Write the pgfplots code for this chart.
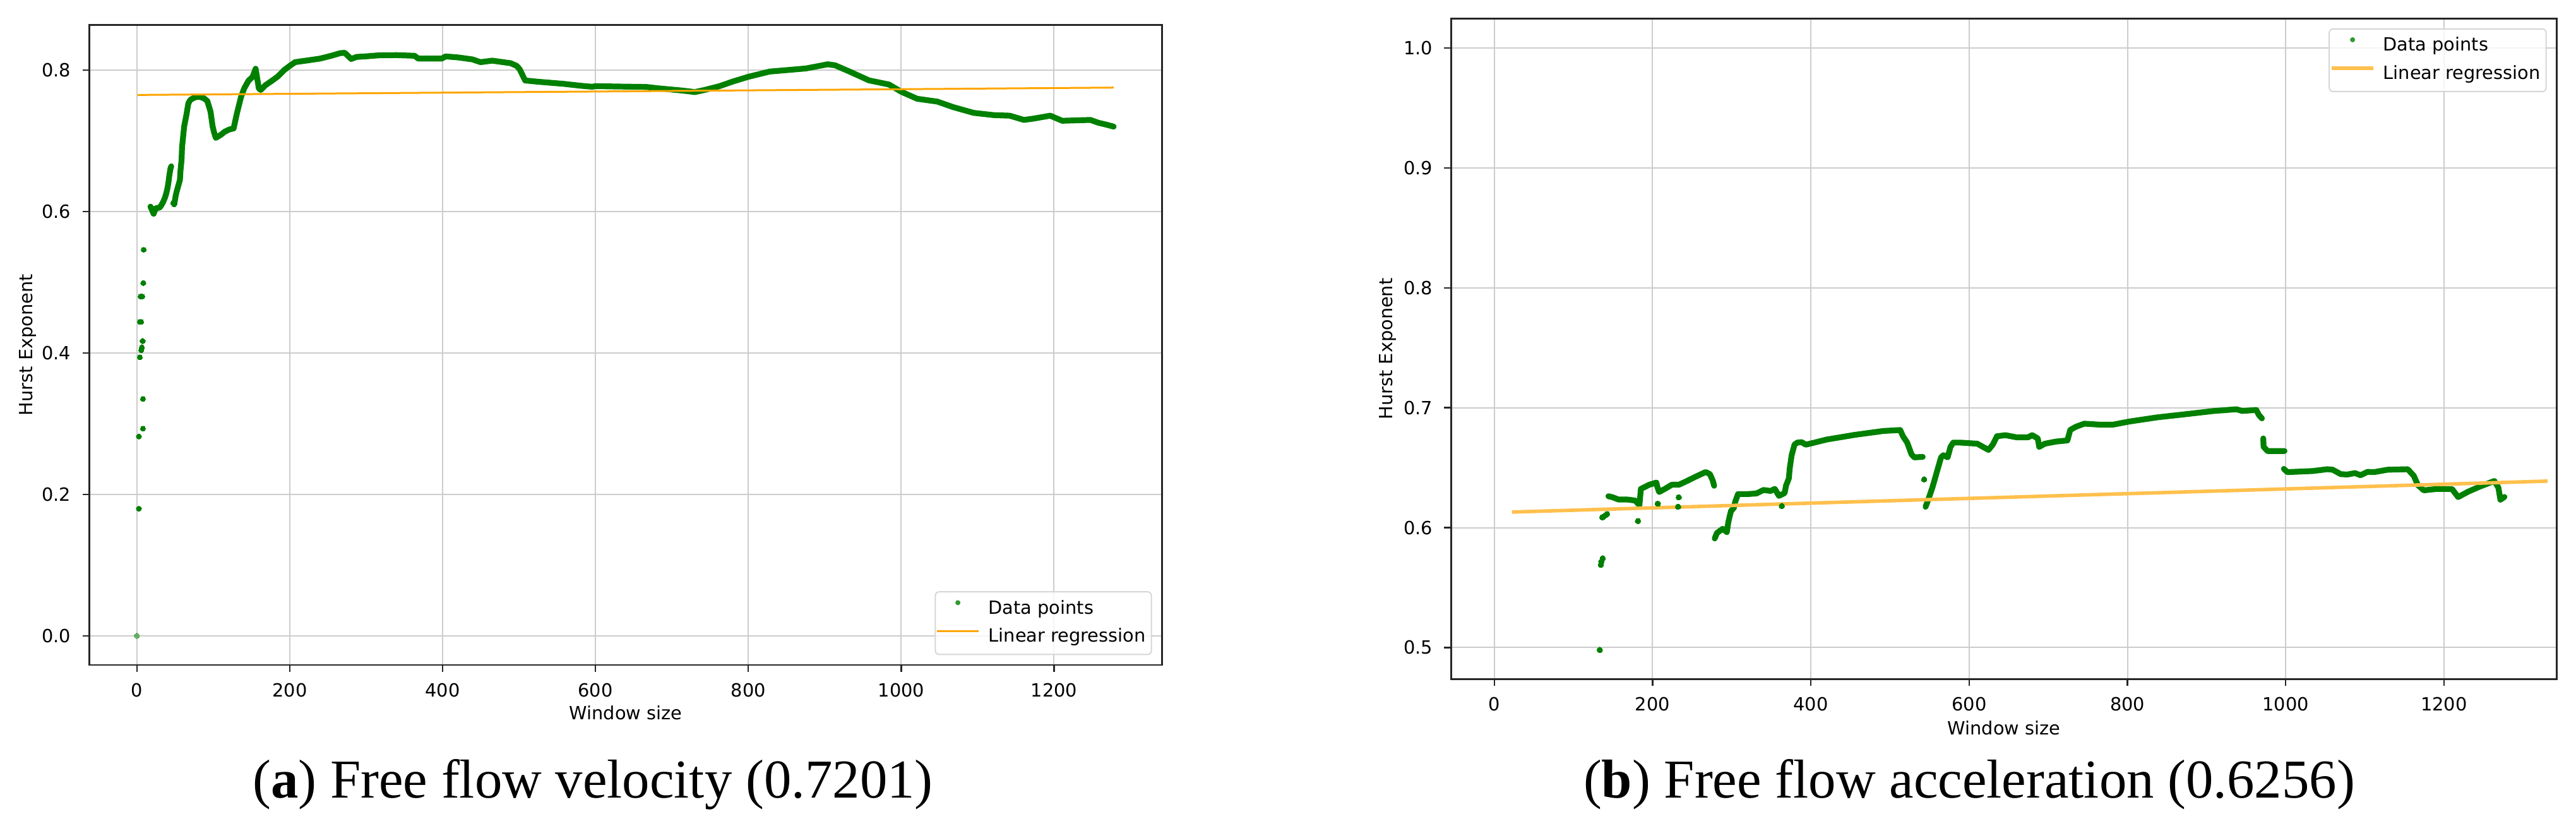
\documentclass[border=0pt]{standalone}
\usepackage{fontspec}
\setmainfont{DejaVu Sans}
\newfontfamily\capfont{Liberation Serif}
\usepackage{pgfplots}
\pgfplotsset{compat=1.18}
\definecolor{mplgreen}{RGB}{0,128,0}
\definecolor{mplorange}{RGB}{255,165,0}
\definecolor{mplorangeb}{RGB}{255,192,77}
\definecolor{gridgray}{RGB}{204,204,204}
\definecolor{legedge}{RGB}{214,214,214}
\newcommand{\axfont}{\fontsize{7.2}{8.6}\selectfont}
\pgfplotsset{
  hurst/.style={
    scale only axis,
    axis line style={black!85, line width=0.65pt},
    tick style={black!85, line width=0.6pt},
    major tick length=2.75pt,
    tick align=outside,
    xtick pos=bottom, ytick pos=left,
    grid=major,
    major grid style={gridgray, line width=0.5pt},
    tick label style={font=\axfont},
    label style={font=\axfont},
    /pgf/number format/assume math mode=true,
    xticklabel style={/pgf/number format/1000 sep={}, yshift=-0.9pt},
    yticklabel style={/pgf/number format/fixed, /pgf/number format/fixed zerofill, /pgf/number format/precision=1, xshift=-1.1pt},
    xlabel={Window size}, ylabel={Hurst Exponent},
    ylabel style={anchor=base},
    xlabel style={anchor=base},
    xtick={0,200,...,1200},
    legend cell align=left,
    legend style={font=\axfont, draw=legedge, line width=0.5pt, rounded corners=1.5pt,
      fill=white, fill opacity=0.8, draw opacity=1, text opacity=1,
      inner xsep=0.3pt, inner ysep=1.2pt, row sep=0pt,
      nodes={inner xsep=2pt, inner ysep=2.1pt, text height=5.4pt, text depth=1.6pt}},
  },
  band/.style={mplgreen, line width=2.3pt, line join=round, line cap=round, forget plot, mark=none},
  dots/.style={only marks, mark=*, mark size=1.02pt, mplgreen, mark options={draw=mplgreen, fill=mplgreen, line width=0pt},
    legend image code/.code={\path[draw=none,fill=none] (0pt,0pt) rectangle (18.4pt,2.5pt); \fill[mplgreen, draw=none, sharp corners] (8.25pt,2.5pt) circle (1.0pt);}},
  regline/.style={line width=0.75pt, mark=none,
    legend image code/.code={\path[draw=none,fill=none] (0pt,0pt) -- (18.4pt,0pt); \draw[##1, sharp corners] (0pt,2.5pt) -- (16.5pt,2.5pt);}},
}
\begin{document}
\begin{tikzpicture}
\useasboundingbox (0,0) rectangle (1020pt,326.75pt);
% ---------------- panel (a) ----------------
\begin{axis}[hurst,
  at={(35.4pt,63.5pt)}, anchor=south west,
  width=424.75pt, height=253.4pt,
  xmin=-62.1, xmax=1341.4, ymin=-0.0411, ymax=0.864,
  ytick={0,0.2,0.4,0.6,0.8},
  xlabel style={at={(axis description cs:0.5,-0.0858)}},
  ylabel style={at={(axis description cs:-0.0533,0.5)}},
  legend style={at={(1,0)}, anchor=south east, xshift=-4pt, yshift=3.9pt},
]
\addplot[dots] coordinates {
(2.6,0.180) (2.6,0.282) (7.9,0.293) (7.9,0.335) (4.0,0.394) (5.7,0.404) (6.6,0.408) (7.6,0.417)
(4.0,0.444) (5.6,0.444) (4.9,0.480) (7.1,0.480) (8.4,0.499) (8.9,0.546)
(17.8,0.607) (21.9,0.597) (24.7,0.6045) (47.5,0.612) (48.9,0.6104)
};
\addlegendentry{Data points}
\addplot[dots, opacity=0.5, forget plot] coordinates {(0,0.000)};
\addplot[band] coordinates {
(17.8,0.607) (19.5,0.603) (21.9,0.597) (24.7,0.6045) (27,0.605) (30.2,0.606) (32,0.609) (34.3,0.6134)
(36.5,0.619) (38.4,0.6253) (40,0.633) (41.2,0.6402) (42.6,0.6521) (44.0,0.661) (45,0.664)
};
\addplot[band] coordinates {
(48.9,0.6104) (50.8,0.6223) (52,0.628) (53.6,0.6342) (56.3,0.6446) (57.1,0.658) (58.5,0.6735)
(59.1,0.6908) (60.5,0.7057) (61.9,0.7205) (64.6,0.7354) (67.4,0.7533) (70,0.758) (74.3,0.7607)
(78,0.762) (82.6,0.7622) (88,0.760) (92.2,0.7563) (96.4,0.7413) (99.1,0.7205) (101,0.712)
(103.3,0.7042) (106,0.706) (110.1,0.7087) (115,0.713) (121.1,0.7161) (126.6,0.7176) (130.8,0.7384)
(136.3,0.7622) (140.4,0.7741) (146,0.785) (151.4,0.7905) (155.4,0.802) (159.6,0.7741) (162,0.772)
(168.6,0.779) (176.1,0.7845) (184.4,0.791) (192.6,0.800) (200,0.806) (207,0.8113) (225,0.814)
(240,0.8164) (255,0.8205) (266,0.824) (272,0.8245) (280.4,0.8158) (287.6,0.8187) (300,0.8195)
(316,0.8209) (340,0.8212) (363.4,0.8203) (368,0.8164) (399,0.8164) (404,0.8194) (420,0.818)
(439,0.8152) (449.6,0.8113) (465,0.8134) (489,0.8098) (497,0.806) (501,0.801) (505,0.792)
(508,0.7854) (524.6,0.7836) (557.7,0.7807) (580,0.778) (595.8,0.7765) (600,0.7774) (630,0.7768)
(667,0.7762) (681,0.7744) (714,0.7711) (730,0.769) (742.8,0.7720) (761.7,0.7771) (780,0.784)
(799.7,0.7905) (828,0.798) (850,0.800) (875.5,0.8024) (904,0.8083) (913.6,0.8068) (932.4,0.798)
(957.9,0.7855) (984,0.7797) (1000,0.7695) (1021,0.7595) (1047.4,0.7555) (1068,0.7477) (1094.8,0.7396)
(1121,0.7364) (1142,0.7356) (1160.6,0.7296) (1173.9,0.7316) (1195,0.7356) (1210.7,0.7284)
(1247.6,0.7296) (1258,0.7256) (1270,0.7225) (1278,0.7201)
};
\addplot[regline, mplorange] coordinates {(1,0.7649) (1278,0.7753)};
\addlegendentry{Linear regression}
\end{axis}
% ---------------- panel (b) ----------------
\begin{axis}[hurst,
  at={(574.6pt,57.95pt)}, anchor=south west,
  width=437.8pt, height=261.4pt,
  xmin=-54.5, xmax=1342.5, ymin=0.4738, ymax=1.0244,
  ytick={0.5,0.6,0.7,0.8,0.9,1.0},
  xlabel style={at={(axis description cs:0.5,-0.0840)}},
  ylabel style={at={(axis description cs:-0.0533,0.5)}},
  legend style={at={(1,1)}, anchor=north east, xshift=-4pt, yshift=-3.8pt},
]
\addplot[dots, mark size=1.1pt] coordinates {
(133.3,0.498) (134.6,0.569) (135.3,0.5717) (137,0.5744) (136.5,0.6086) (138.5,0.6095) (140.7,0.6104)
(142.5,0.6113) (181.6,0.6055) (206.6,0.620) (232.2,0.6174) (233,0.6253) (363.3,0.618) (543.1,0.6402)
};
\addlegendentry{Data points}
\addplot[band] coordinates {
(144.2,0.6262) (149.6,0.6253) (156.7,0.6235) (167.4,0.6235) (178,0.6226) (181.6,0.62) (183.4,0.619)
(185.2,0.6323) (190.5,0.634) (195.9,0.6358) (204.8,0.6376) (206,0.634) (208.3,0.6297) (215.5,0.6323)
(224.4,0.6358) (233.3,0.6358) (242.2,0.6385) (252.9,0.642) (267.1,0.6464) (272.4,0.6446) (276,0.6393)
(277.8,0.6349)
};
\addplot[band] coordinates {
(278.5,0.591) (281.3,0.5955) (288.5,0.599) (293.8,0.5963) (295.6,0.6042) (297.4,0.6095) (299.1,0.6139)
(302.7,0.6165) (304.5,0.6218) (308,0.628) (320.5,0.628) (331.2,0.6285) (340.1,0.6314) (349,0.6306)
(354.4,0.6323) (359.7,0.6265) (366.8,0.6288) (368.6,0.635) (372.2,0.6411) (373.2,0.649) (375.7,0.6604)
(379.3,0.6692) (382.8,0.6709) (388.2,0.6713) (393.5,0.6692) (398.9,0.67) (420.2,0.6735) (455.8,0.6774)
(491.5,0.6806) (512.8,0.6814) (516.4,0.6762) (521.7,0.6709) (527.1,0.6612) (530.6,0.6586) (541.3,0.659)
};
\addplot[band] coordinates {
(544.9,0.6174) (548.4,0.6235) (553.8,0.634) (559.1,0.6463) (564.5,0.6586) (567.4,0.6604) (572.8,0.6586)
(576.4,0.6674) (579.9,0.6709) (588.8,0.6709) (610.2,0.67) (617.3,0.6674) (624.4,0.6648) (629.8,0.6692)
(635.1,0.6762) (645.8,0.6771) (660,0.6753) (674.3,0.6753) (679.6,0.6771) (686.7,0.6744) (688.5,0.6674)
(695.7,0.67) (709.9,0.6718) (724.1,0.6727) (727.7,0.6815) (734.8,0.6841) (745.5,0.6867) (766.9,0.6858)
(781.1,0.6858) (788.2,0.6867) (802.5,0.6885) (838.1,0.692) (873.7,0.6946) (909.3,0.6973) (937.8,0.6987)
(944.9,0.6973) (962.7,0.6981) (966.3,0.6937) (969.9,0.6911)
};
\addplot[band] coordinates {
(971.6,0.6744) (972,0.6674) (977,0.6639) (998.4,0.6639)
};
\addplot[band] coordinates {
(997.6,0.649) (1002,0.6463) (1034,0.6472) (1052.4,0.6487) (1058.9,0.6484) (1069.6,0.6446) (1077.9,0.6443)
(1087.4,0.6455) (1094.5,0.6437) (1103.3,0.6465) (1111.6,0.6463) (1128.8,0.6483) (1154.2,0.6487)
(1161.8,0.6432) (1166.9,0.6355) (1174.5,0.6311) (1189.8,0.6322) (1210.1,0.6322) (1217.8,0.6255)
(1230.5,0.63) (1245.8,0.6344) (1263.6,0.6389) (1268.7,0.6333) (1271.2,0.6233) (1276.3,0.6256)
};
\addplot[regline, mplorangeb, line width=1.4pt] coordinates {(22.3,0.613) (1330.8,0.6388)};
\addlegendentry{Linear regression}
\end{axis}
% ---------------- captions ----------------
\node[anchor=base, inner sep=0pt, font=\capfont\fontsize{21.7}{26}\selectfont] at (234.75pt,10.8pt) {(\textbf{a}) Free flow velocity (0.7201)};
\node[anchor=base, inner sep=0pt, font=\capfont\fontsize{21.7}{26}\selectfont] at (779.75pt,10.8pt) {(\textbf{b}) Free flow acceleration (0.6256)};
\end{tikzpicture}
\end{document}
